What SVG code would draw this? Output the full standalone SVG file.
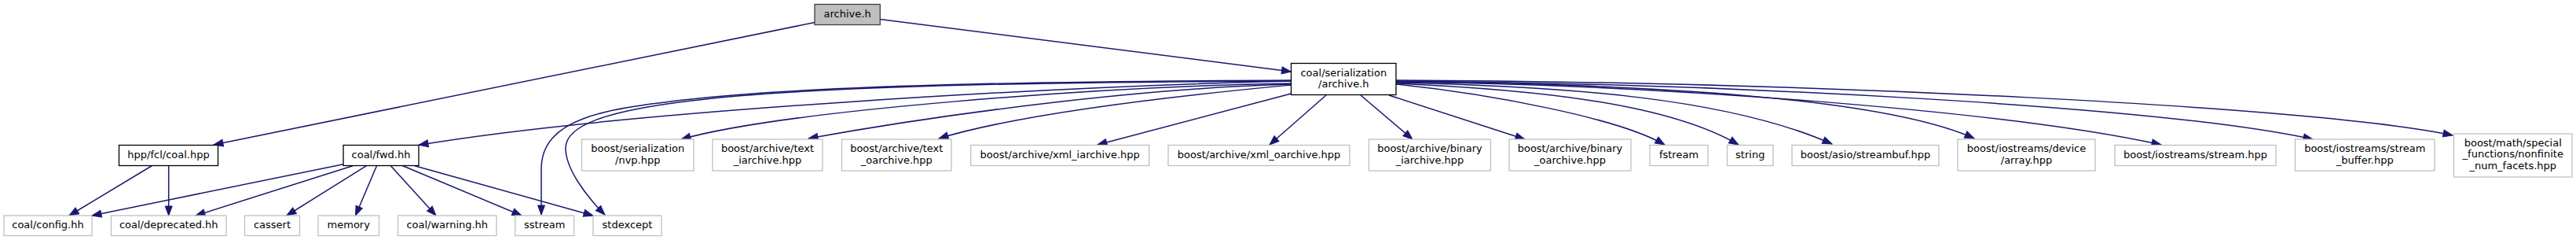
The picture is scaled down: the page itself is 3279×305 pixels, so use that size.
<svg xmlns="http://www.w3.org/2000/svg" width="3279" height="305" viewBox="0 0 3279 305">
<style>
.n rect{fill:#ffffff;stroke:#bfbfbf;stroke-width:1.3}
.n.k rect{stroke:#000000}
.n.r rect{fill:#bfbfbf;stroke:#404040}
.n text{font-family:"DejaVu Sans","Liberation Sans",sans-serif;font-size:13px;fill:#000000;text-anchor:middle}
#edges path{fill:none;stroke:#191970;stroke-width:1.5;marker-end:url(#arr)}
</style>
<defs>
<marker id="arr" markerUnits="userSpaceOnUse" markerWidth="14" markerHeight="11" refX="12" refY="4.5" orient="auto" overflow="visible">
<path d="M0,0 L12,4.5 L0,9 Z" fill="#191970" stroke="#191970" stroke-width="1"/>
</marker>
</defs>
<rect x="0" y="0" width="3279" height="305" fill="#ffffff"/>
<g id="edges">
<path d="M1037,28.5 L272,184"/>
<path d="M1120.3,24.5 L1643.5,91"/>
<path d="M1643.5,103 C1350,110 800,140 533,184.3"/>
<path d="M1643.5,102 C1400,103 1050,106 870,127 C770,138.7 689,150 689,215 L689,273"/>
<path d="M1643.5,103 C1400,104 1050,107 880,128 C770,141 718,160 720,190 C721,215 745,248 770,273"/>
<path d="M1643.5,106 C1400,110 1000,140 867,177"/>
<path d="M1643.5,107 C1450,112 1200,145 1029,176"/>
<path d="M1643.5,108 C1580,114 1320,138 1195,176"/>
<path d="M1643.5,119 L1397,184"/>
<path d="M1688,121 L1616,184"/>
<path d="M1732,121 L1798,177"/>
<path d="M1768,121 L1941,177"/>
<path d="M1777,107 C1900,120 2060,150 2119,184"/>
<path d="M1777,106 C1950,114 2120,130 2213,184"/>
<path d="M1777,105 C2000,110 2200,125 2332,183"/>
<path d="M1777,104 C2100,106 2400,125 2513,176"/>
<path d="M1777,104 C2100,107 2550,140 2751,184"/>
<path d="M1777,103 C2200,106 2750,135 2944,177"/>
<path d="M1777,102 C2300,104 2950,135 3122,172"/>
<path d="M437,208.7 L117,274"/>
<path d="M449,210.7 L249,274"/>
<path d="M466.5,210.7 L364.8,274"/>
<path d="M479.5,210.7 L452.5,274"/>
<path d="M497.4,210.7 L555,274"/>
<path d="M512.8,210.7 L664,274"/>
<path d="M528,210.7 L755,274"/>
<path d="M193.6,210.5 L88,274"/>
<path d="M214.7,210.5 L214.7,274"/>
</g>
<g id="n_archive" class="n r"><rect x="1037" y="5.5" width="83.3" height="26"/><text x="1078.6" y="22">archive.h</text></g>
<g id="n_ser_archive" class="n k"><rect x="1643.5" y="80.5" width="133.5" height="40"/><text x="1710.3" y="96.8">coal/serialization</text><text x="1710.3" y="111.1">/archive.h</text></g>
<g id="n_coal_hpp" class="n k"><rect x="151.5" y="184.5" width="126" height="26"/><text x="214.5" y="201">hpp/fcl/coal.hpp</text></g>
<g id="n_fwd" class="n k"><rect x="437" y="184.5" width="96" height="26"/><text x="485" y="201">coal/fwd.hh</text></g>
<g id="n_nvp" class="n"><rect x="740.5" y="177" width="142.5" height="40"/><text x="811.75" y="193.3">boost/serialization</text><text x="811.75" y="207.6">/nvp.hpp</text></g>
<g id="n_text_i" class="n"><rect x="907" y="177" width="140" height="40"/><text x="977" y="193.3">boost/archive/text</text><text x="977" y="207.6">_iarchive.hpp</text></g>
<g id="n_text_o" class="n"><rect x="1071.5" y="177" width="139.5" height="40"/><text x="1141.25" y="193.3">boost/archive/text</text><text x="1141.25" y="207.6">_oarchive.hpp</text></g>
<g id="n_xml_i" class="n"><rect x="1235.7" y="184.5" width="227" height="26"/><text x="1349.2" y="201">boost/archive/xml_iarchive.hpp</text></g>
<g id="n_xml_o" class="n"><rect x="1487" y="184.5" width="231" height="26"/><text x="1602.5" y="201">boost/archive/xml_oarchive.hpp</text></g>
<g id="n_bin_i" class="n"><rect x="1742.5" y="177" width="155" height="40"/><text x="1820" y="193.3">boost/archive/binary</text><text x="1820" y="207.6">_iarchive.hpp</text></g>
<g id="n_bin_o" class="n"><rect x="1921" y="177" width="155" height="40"/><text x="1998.5" y="193.3">boost/archive/binary</text><text x="1998.5" y="207.6">_oarchive.hpp</text></g>
<g id="n_fstream" class="n"><rect x="2100" y="184.5" width="74" height="26"/><text x="2137" y="201">fstream</text></g>
<g id="n_string" class="n"><rect x="2198.5" y="184.5" width="58.5" height="26"/><text x="2227.75" y="201">string</text></g>
<g id="n_asio" class="n"><rect x="2281" y="184.5" width="187" height="26"/><text x="2374.5" y="201">boost/asio/streambuf.hpp</text></g>
<g id="n_array" class="n"><rect x="2492" y="177" width="175" height="40"/><text x="2579.5" y="193.3">boost/iostreams/device</text><text x="2579.5" y="207.6">/array.hpp</text></g>
<g id="n_stream" class="n"><rect x="2692" y="184.5" width="205" height="26"/><text x="2794.5" y="201">boost/iostreams/stream.hpp</text></g>
<g id="n_stream_buffer" class="n"><rect x="2921.5" y="177" width="177.5" height="40"/><text x="3010.25" y="193.3">boost/iostreams/stream</text><text x="3010.25" y="207.6">_buffer.hpp</text></g>
<g id="n_nonfinite" class="n"><rect x="3123.5" y="170" width="150.5" height="55"/><text x="3198.75" y="186">boost/math/special</text><text x="3198.75" y="200.3">_functions/nonfinite</text><text x="3198.75" y="214.6">_num_facets.hpp</text></g>
<g id="n_config" class="n"><rect x="5" y="274" width="112" height="25.5"/><text x="61" y="290.3">coal/config.hh</text></g>
<g id="n_deprecated" class="n"><rect x="141.5" y="274" width="146.5" height="25.5"/><text x="214.75" y="290.3">coal/deprecated.hh</text></g>
<g id="n_cassert" class="n"><rect x="311.5" y="274" width="70" height="25.5"/><text x="346.5" y="290.3">cassert</text></g>
<g id="n_memory" class="n"><rect x="405" y="274" width="77.5" height="25.5"/><text x="443.75" y="290.3">memory</text></g>
<g id="n_warning" class="n"><rect x="506.5" y="274" width="125.5" height="25.5"/><text x="569.25" y="290.3">coal/warning.hh</text></g>
<g id="n_sstream" class="n"><rect x="655.7" y="274" width="75" height="25.5"/><text x="693.2" y="290.3">sstream</text></g>
<g id="n_stdexcept" class="n"><rect x="755" y="274" width="87" height="25.5"/><text x="798.5" y="290.3">stdexcept</text></g>
</svg>
